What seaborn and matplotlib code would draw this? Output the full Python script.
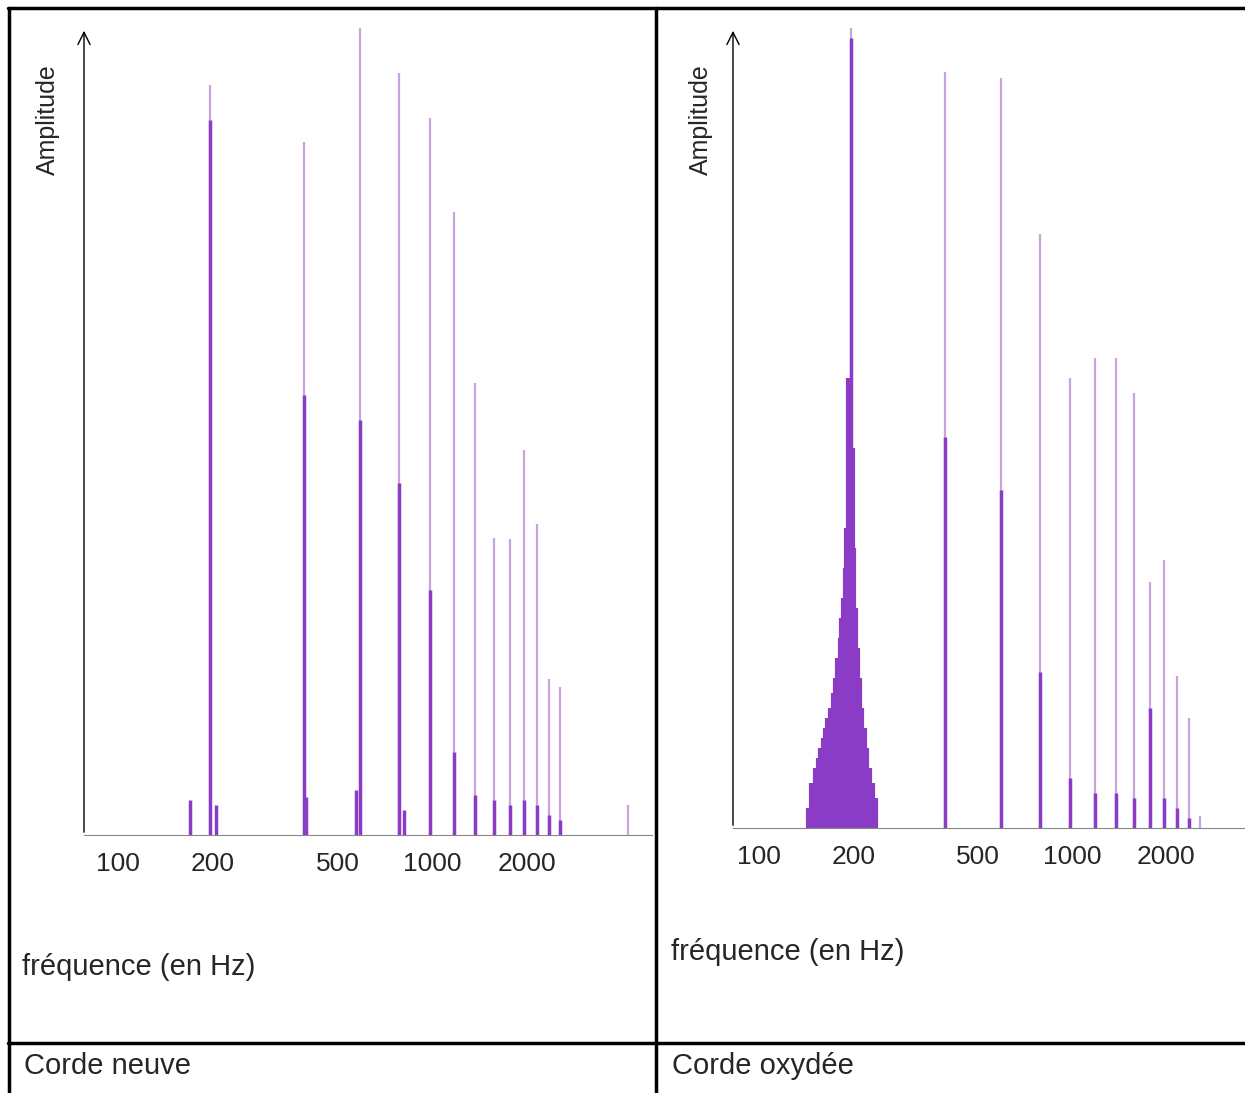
import matplotlib
matplotlib.use("Agg")
import matplotlib.pyplot as plt
import seaborn as sns

sns.set_style("white")
plt.rcParams['font.family'] = ['Liberation Sans', 'DejaVu Sans']

LIGHT = '#c9a3de'
DARK = '#8b3cc6'

ticks = [100, 200, 500, 1000, 2000]
tick_labels = ['100', '200', '500', '1000', '2000']

# Corde neuve : harmoniques de ~196 Hz
new_freq = [196, 392, 588, 784, 980, 1176, 1372, 1568, 1764, 1960, 2156, 2352, 2548, 4200]
new_amp = [750, 693, 810, 762, 717, 623, 452, 297, 296, 385, 311, 156, 148, 30]
new_dark = [715, 440, 415, 352, 245, 83, 40, 35, 30, 35, 30, 20, 15, 0]
new_side_freq = [170, 205, 398, 570, 813]
new_side_amp = [35, 30, 38, 45, 25]

# Corde oxydée
ox_freq = [197, 394, 591, 788, 985, 1182, 1379, 1576, 1773, 1970, 2167, 2364, 2561]
ox_amp = [803, 756, 750, 594, 450, 470, 470, 435, 246, 268, 152, 110, 12]
ox_dark = [790, 391, 338, 156, 50, 35, 35, 30, 120, 30, 20, 10, 0]
hump_freq = [143, 147, 151, 154, 157, 160, 162, 165, 169, 172, 175, 178, 181, 183, 185, 188,
             190, 193, 199, 201, 204, 207, 210, 214, 218, 222, 226, 231, 236]
hump_amp = [20, 45, 60, 70, 80, 90, 100, 110, 120, 135, 150, 170, 190, 210, 230, 260,
            300, 450, 380, 280, 220, 180, 150, 120, 100, 80, 60, 45, 30]

W, H = 1245, 1093
fig = plt.figure(figsize=(W / 100, H / 100), dpi=100)


def panel(x0, x1, y0, ytop, xlim, freq, amp, dark, side_f, side_a, side_lw):
    ax = fig.add_axes([x0 / W, (H - y0) / H, (x1 - x0) / W, (y0 - ytop) / H])
    ax.set_xscale('log')
    ax.set_xlim(*xlim)
    ax.set_ylim(0, y0 - ytop)
    ax.vlines(freq, 0, amp, color=LIGHT, lw=1.6)
    ax.vlines(side_f, 0, side_a, color=DARK, lw=side_lw)
    ax.vlines(freq, 0, dark, color=DARK, lw=2.5)
    for s in ['top', 'right', 'left']:
        ax.spines[s].set_visible(False)
    ax.spines['bottom'].set_color('#888888')
    ax.set_xticks(ticks)
    ax.set_xticklabels(tick_labels, fontsize=19)
    ax.xaxis.set_minor_locator(matplotlib.ticker.NullLocator())
    ax.tick_params(axis='x', length=4, width=3, color='black', direction='out', pad=8)
    ax.set_yticks([])
    ax.annotate('', xy=(0, 1), xytext=(0, 0), xycoords='axes fraction',
                arrowprops=dict(arrowstyle='->', color='black', lw=1, mutation_scale=22))
    ax.text(-0.063, 0.955, 'Amplitude', rotation=90, transform=ax.transAxes,
            ha='center', va='top', fontsize=18, stretch='condensed')
    return ax


panel(84, 652, 835, 28, (78, 5000), new_freq, new_amp, new_dark, new_side_freq, new_side_amp, 2.5)
panel(733, 1245, 828, 28, (82.6, 3570), ox_freq, ox_amp, ox_dark, hump_freq, hump_amp, 3.0)

# cadre du tableau
line = dict(color='black', lw=2.5, transform=fig.transFigure)
fig.add_artist(plt.Line2D([8 / W, 1], [1 - 8 / H, 1 - 8 / H], **line))
fig.add_artist(plt.Line2D([9 / W, 9 / W], [0, 1 - 8 / H], **line))
fig.add_artist(plt.Line2D([656 / W, 656 / W], [0, 1 - 8 / H], **line))
fig.add_artist(plt.Line2D([8 / W, 1], [1 - 1043 / H, 1 - 1043 / H], **line))

fig.text(22 / W, 1 - 967 / H, 'fréquence (en Hz)', fontsize=21, va='center')
fig.text(671 / W, 1 - 952 / H, 'fréquence (en Hz)', fontsize=21, va='center')
fig.text(24 / W, 1 - 1066 / H, 'Corde neuve', fontsize=21, va='center')
fig.text(672 / W, 1 - 1066 / H, 'Corde oxydée', fontsize=21, va='center')

fig.savefig('out.png', dpi=100)
